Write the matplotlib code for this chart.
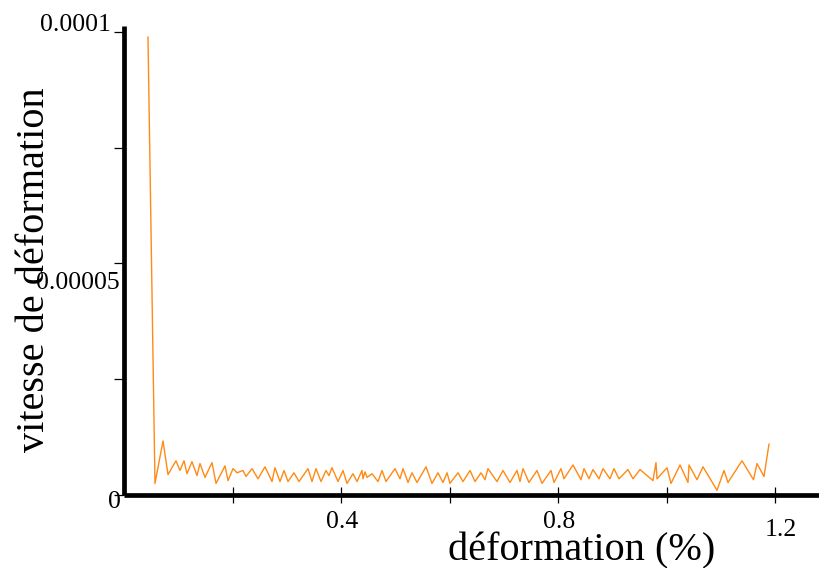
import matplotlib
matplotlib.use("Agg")
import matplotlib.pyplot as plt
from matplotlib.transforms import offset_copy, blended_transform_factory

# strain (%) and strain rate
deformation = [
    0.0433, 0.0562, 0.0710, 0.0802, 0.0949, 0.1023, 0.1097, 0.1152, 0.1244, 0.1336,
    0.1392, 0.1484, 0.1613, 0.1687, 0.1853, 0.1908, 0.2000, 0.2074, 0.2184, 0.2240,
    0.2350, 0.2461, 0.2590, 0.2719, 0.2774, 0.2866, 0.2940, 0.3014, 0.3124, 0.3217,
    0.3382, 0.3456, 0.3530, 0.3622, 0.3714, 0.3770, 0.3825, 0.3935, 0.4028, 0.4101,
    0.4212, 0.4286, 0.4378, 0.4396, 0.4433, 0.4470, 0.4562, 0.4673, 0.4747, 0.4820,
    0.4986, 0.5078, 0.5134, 0.5226, 0.5300, 0.5392, 0.5558, 0.5668, 0.5779, 0.5871,
    0.5945, 0.6000, 0.6147, 0.6240, 0.6369, 0.6461, 0.6571, 0.6645, 0.6700, 0.6866,
    0.6977, 0.7106, 0.7235, 0.7290, 0.7346, 0.7456, 0.7604, 0.7696, 0.7862, 0.7917,
    0.8046, 0.8101, 0.8267, 0.8415, 0.8470, 0.8562, 0.8636, 0.8747, 0.8820, 0.8949,
    0.9023, 0.9115, 0.9281, 0.9373, 0.9502, 0.9742, 0.9797, 0.9816, 1.0000, 1.0074,
    1.0240, 1.0387, 1.0406, 1.0553, 1.0664, 1.0922, 1.1051, 1.1124, 1.1382, 1.1594,
    1.1659, 1.1788, 1.1880,
]
vitesse = [
    9.9e-5, 2.4e-6, 1.16e-5, 4.3e-6, 7.3e-6, 5.2e-6, 7.3e-6, 4.5e-6, 7.1e-6, 4.1e-6,
    6.7e-6, 3.7e-6, 6.9e-6, 2.4e-6, 6.2e-6, 3.0e-6, 5.6e-6, 4.7e-6, 5.2e-6, 3.9e-6,
    5.6e-6, 3.4e-6, 6.0e-6, 2.8e-6, 5.8e-6, 2.8e-6, 5.2e-6, 2.8e-6, 4.7e-6, 2.8e-6,
    5.6e-6, 2.8e-6, 5.6e-6, 2.8e-6, 5.2e-6, 4.1e-6, 5.8e-6, 2.8e-6, 5.2e-6, 2.4e-6,
    4.5e-6, 2.8e-6, 5.2e-6, 3.4e-6, 4.9e-6, 3.7e-6, 4.5e-6, 2.8e-6, 5.2e-6, 2.8e-6,
    5.6e-6, 3.4e-6, 5.6e-6, 2.6e-6, 4.7e-6, 2.6e-6, 6.0e-6, 2.4e-6, 4.7e-6, 2.6e-6,
    4.7e-6, 2.4e-6, 4.7e-6, 2.8e-6, 5.2e-6, 2.8e-6, 4.7e-6, 3.2e-6, 5.6e-6, 2.8e-6,
    5.2e-6, 2.6e-6, 5.2e-6, 2.8e-6, 5.6e-6, 2.6e-6, 5.2e-6, 2.4e-6, 5.2e-6, 2.6e-6,
    5.6e-6, 3.4e-6, 6.4e-6, 3.2e-6, 5.6e-6, 3.4e-6, 5.4e-6, 3.4e-6, 5.6e-6, 3.4e-6,
    5.6e-6, 3.4e-6, 5.4e-6, 3.4e-6, 5.4e-6, 3.0e-6, 6.9e-6, 3.4e-6, 5.8e-6, 2.4e-6,
    6.4e-6, 2.6e-6, 6.4e-6, 3.2e-6, 6.0e-6, 0.9e-6, 5.2e-6, 2.6e-6, 7.3e-6, 3.2e-6,
    6.7e-6, 3.9e-6, 1.09e-5,
]

x_ticks = [0.2, 0.4, 0.6, 0.8, 1.0, 1.2]
x_labels = {0.4: "0.4", 0.8: "0.8", 1.2: "1.2"}
y_ticks = [0.0, 0.000025, 0.00005, 0.000075, 0.0001]
y_labels = {0.0: "0", 0.00005: "0.00005", 0.0001: "0.0001"}

plt.rcParams["font.family"] = ["Liberation Serif", "DejaVu Serif"]

fig = plt.figure(figsize=(8.2, 5.68), dpi=100)
ax = fig.add_axes([124.5 / 820, 73.5 / 568, 695.5 / 820, 468.5 / 568])

ax.plot(deformation, vitesse, color="#ff8a14", linewidth=1.0, solid_joinstyle="round")

ax.set_xlim(0, 695.5 / 542.5)
ax.set_ylim(0, 1.014e-4)

for side in ("top", "right"):
    ax.spines[side].set_visible(False)
for side in ("left", "bottom"):
    ax.spines[side].set_linewidth(3.4)
    ax.spines[side].set_color("black")
    ax.spines[side].set_capstyle("butt")

ax.set_xticks(x_ticks)
ax.set_yticks(y_ticks)
ax.set_xticklabels([])
ax.set_yticklabels([])
ax.tick_params(axis="x", direction="inout", length=12, width=0.9, color="black")
ax.tick_params(axis="y", direction="out", length=7, width=0.9, color="black")

fs = 18.5
# x tick labels, placed below the axis
xt = ax.get_xaxis_transform()
for val, txt in x_labels.items():
    dy = -41 if val == 1.2 else -34
    dx = 5 if val == 1.2 else 1
    ax.text(val, 0, txt, transform=offset_copy(xt, fig, x=dx, y=dy, units="dots"),
            ha="center", va="baseline", fontsize=fs, clip_on=False)

# y tick labels, placed left of the axis
yt = blended_transform_factory(ax.transAxes, ax.transData)
y_offsets = {0.0: (-4, -14), 0.00005: (-5, -26), 0.0001: (-14, 1)}
for val, txt in y_labels.items():
    dx, dy = y_offsets[val]
    ax.text(0, val, txt, transform=offset_copy(yt, fig, x=dx, y=dy, units="dots"),
            ha="right", va="baseline", fontsize=fs, clip_on=False)

fig.text(448 / 820, 1 - 560 / 568, "déformation (%)", ha="left", va="baseline",
         fontsize=29)
fig.text(44 / 820, 1 - 270 / 568, "vitesse de déformation", rotation=90,
         rotation_mode="anchor", ha="center", va="baseline", fontsize=29)

fig.savefig("out.png", dpi=100)
